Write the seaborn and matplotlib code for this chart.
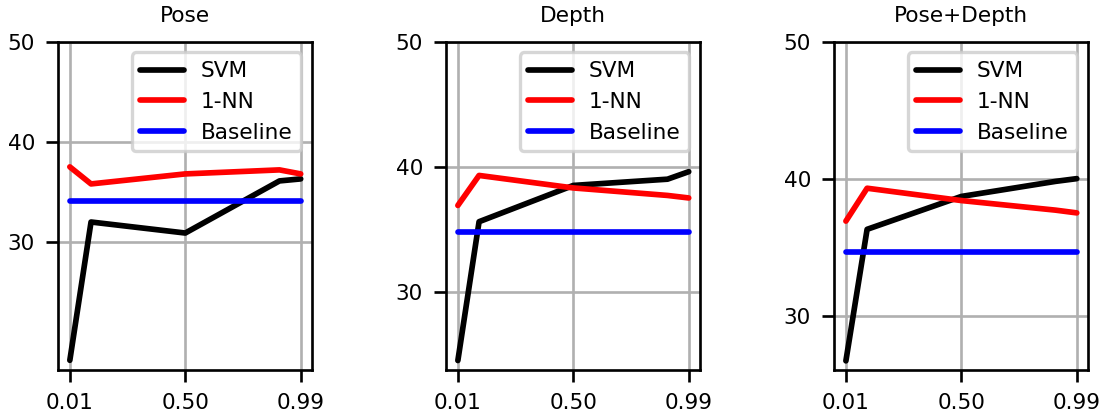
import matplotlib
matplotlib.use("Agg")
import matplotlib.pyplot as plt
import seaborn as sns
import pandas as pd

# Fraction of training data used
fractions = [0.01, 0.1, 0.5, 0.9, 0.99]

panels = ["Pose", "Depth", "Pose+Depth"]

pose_svm = [18.2, 32.0, 30.9, 36.1, 36.3]
pose_nn = [37.5, 35.8, 36.8, 37.2, 36.8]
pose_base = [34.1, 34.1, 34.1, 34.1, 34.1]

depth_svm = [24.5, 35.6, 38.5, 39.0, 39.6]
depth_nn = [36.9, 39.3, 38.3, 37.7, 37.5]
depth_base = [34.8, 34.8, 34.8, 34.8, 34.8]

both_svm = [26.7, 36.3, 38.7, 39.8, 40.0]
both_nn = [36.9, 39.3, 38.4, 37.7, 37.5]
both_base = [34.65, 34.65, 34.65, 34.65, 34.65]

methods = ["SVM", "1-NN", "Baseline"]
colors = {"SVM": "black", "1-NN": "red", "Baseline": "blue"}

xticks = [0.01, 0.50, 0.99]
xtick_labels = ["0.01", "0.50", "0.99"]
yticks = [30, 40, 50]

series = {
    "Pose": {"SVM": pose_svm, "1-NN": pose_nn, "Baseline": pose_base},
    "Depth": {"SVM": depth_svm, "1-NN": depth_nn, "Baseline": depth_base},
    "Pose+Depth": {"SVM": both_svm, "1-NN": both_nn, "Baseline": both_base},
}

plt.rcParams["font.family"] = ["DejaVu Sans"]
plt.rcParams["font.size"] = 6.5
plt.rcParams["lines.solid_capstyle"] = "round"

dpi = 240
fig, axes = plt.subplots(1, 3, figsize=(1106 / dpi, 412 / dpi), dpi=dpi)
fig.subplots_adjust(left=0.0527, right=0.984, top=0.899, bottom=0.102, wspace=0.528)

for ax, name in zip(axes, panels):
    df = pd.DataFrame({"fraction": fractions})
    for m in methods:
        df[m] = series[name][m]
    for m in methods:
        sns.lineplot(data=df, x="fraction", y=m, ax=ax, color=colors[m],
                     linewidth=1.7, label=m)
    ax.set_ylim(top=50)
    ax.set_yticks(yticks)
    ax.set_xticks(xticks)
    ax.set_xticklabels(xtick_labels)
    ax.set_xlabel("")
    ax.set_ylabel("")
    ax.grid(True, color="#b0b0b0", linewidth=0.8)
    ax.set_axisbelow(True)
    ax.set_title(name, fontsize=6.5)
    ax.legend(loc="upper right", fontsize=6.5)

fig.savefig("out.png", dpi=dpi)
